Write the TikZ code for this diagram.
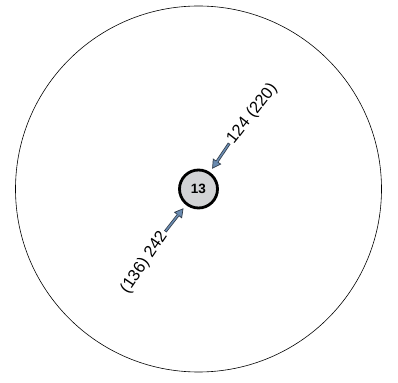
\documentclass[tikz,border=0pt]{standalone}
\usepackage{fontspec}
\setmainfont{Liberation Sans}
\usetikzlibrary{arrows.meta}
\definecolor{arrowblue}{HTML}{6A8BB0}
\definecolor{arrowedge}{HTML}{2E3A48}
\definecolor{hubgray}{HTML}{D2D3D5}
\tikzset{
  hub/.style={draw,circle,line width=2.8pt,fill=hubgray,minimum size=38pt,inner sep=0pt,font=\bfseries\fontsize{13.5}{15}\selectfont},
  flow/.style={draw=arrowedge,line width=3pt,shorten >=4pt,
    -{Triangle[length=9pt,width=10pt,fill=arrowblue,line width=0.7pt]},
    postaction={draw=arrowblue,line width=1.5pt,shorten >=12pt,shorten <=0.7pt,-}},
  count/.style={font=\fontsize{16.5}{18}\selectfont,inner sep=1pt}
}
\begin{document}
\begin{tikzpicture}[x=1pt,y=1pt]
\useasboundingbox (-198.5,-193) rectangle (199.5,189);
\node[draw,circle,minimum size=366pt,line width=0.6pt] (ring) at (0,0) {};
\node[hub] (hub) at (0,0) {13};

\coordinate (ne) at (56:55);
\coordinate (sw) at (232:54);
\draw[flow] (ne) -- (hub);
\draw[flow] (sw) -- (hub);

\node[count,anchor=west,rotate=52] (nelabel) at (56:56) {124 (220)};
\node[count,anchor=east,rotate=56] (swlabel) at (232:55) {(136) 242};
\end{tikzpicture}
\end{document}
